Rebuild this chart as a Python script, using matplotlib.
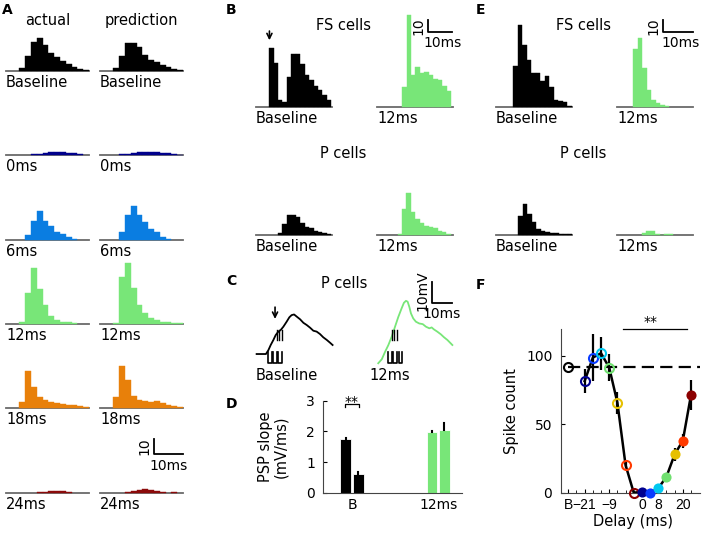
import numpy as np
import matplotlib
matplotlib.use('Agg')
import matplotlib.pyplot as plt

W, H = 702, 540
plt.rcParams['font.family'] = ['DejaVu Sans']
plt.rcParams['font.size'] = 10.5

# ---------------- DATA ----------------
# Panel A: spike-time histograms (counts per 2 ms bin, bins start at 4.6 ms)
a_bin_start = 4.6
a_bin_w = 2.0
a_labels = ['Baseline', '0ms', '6ms', '12ms', '18ms', '24ms']
a_colors = ['#000000', '#00008B', '#0A7DE1', '#78E678', '#E8800A', '#8B0A0A']
a_act_base = [1.8, 10, 19.6, 21.8, 17.3, 11.8, 9.1, 6.7, 4.7, 2.9, 1.3, 0.7]
a_pred_base = [1.8, 10, 18.4, 18.4, 16.2, 10.7, 7.3, 5.8, 4.0, 2.9, 1.3, 0.9]
a_act_0 = [0, 0, 0.4, 0.9, 1.4, 1.9, 2.1, 1.9, 1.5, 1.0, 0.5, 0]
a_pred_0 = [0, 0.4, 0.9, 1.5, 2.0, 2.3, 2.3, 2.0, 1.5, 1.0, 0.6, 0.3]
a_act_6 = [0, 3.3, 12.7, 19.1, 12.7, 9.3, 5.6, 4.0, 1.8, 0.4, 0, 0]
a_pred_6 = [0, 5.6, 16.7, 22.7, 16.7, 12.2, 7.3, 5.6, 2.2, 0.9, 0, 0]
a_act_12 = [1.6, 20.4, 37.5, 23.3, 12.7, 5.3, 2.7, 1.6, 1.1, 0.4, 0, 0]
a_pred_12 = [0.9, 31.1, 40.4, 24.2, 12.7, 7.6, 3.8, 2.7, 1.6, 1.1, 0.7, 0.4]
a_act_18 = [4.0, 24.9, 13.8, 7.3, 5.6, 4.0, 3.6, 2.7, 2.2, 1.8, 1.1, 0.4]
a_pred_18 = [7.3, 28.2, 18.4, 8.2, 5.6, 4.4, 3.8, 4.4, 3.3, 2.2, 1.1, 0.4]
a_act_24 = [0, 0, 0, 0.5, 1.0, 1.3, 1.5, 1.2, 0.6, 0, 0, 0]
a_pred_24 = [0, 0, 1.0, 1.6, 2.0, 2.4, 2.2, 1.4, 0.6, 0, 0.6, 0]

# Panel B: FS / P cell histograms
b_bin_w = 1.85
b_fs_base_start, b_fs_base = 5.5, [48, 36, 5.4, 4, 24, 43, 43, 35, 26, 22, 17, 14, 10, 6]
b_fs_12_start, b_fs_12 = 10.5, [16, 75, 26, 32.5, 27.6, 28.5, 26, 22.8, 22, 17, 13]
b_p_base_start, b_p_base = 9.2, [1.4, 8.9, 16.3, 16.3, 14.9, 9.5, 6.8, 5.4, 3.5, 2.7, 1.9, 1.1]
b_p_12_start, b_p_12 = 8.6, [0.8, 20.9, 34.4, 18.9, 12.8, 9.5, 7.3, 6.8, 5.4, 3.5, 2.2, 0.8]

# Panel E: FS / P cell histograms
e_bin_w = 1.5
e_fs_base_start, e_fs_base = 5.8, [33, 67, 50, 38, 28, 28, 21, 25, 16, 6, 5, 4, 1]
e_fs_12_start, e_fs_12 = 5.4, [47, 56, 31.5, 13.8, 5.7, 3, 1.6, 0.8]
e_p_base_start, e_p_base = 7.4, [15.7, 25.2, 17.1, 10.3, 4.9, 3.5, 2.4, 1.9, 1.4, 1.0, 0.7, 0.5]
e_p_12_start, e_p_12 = 8.2, [1.5, 3.5, 3.5, 1.0, 0.3, 1.0, 0.5]

# Panel C: membrane potential traces (ms, mV)
c_base_t = [0.3, 4.8, 6.0, 7.1, 8.4, 9.5, 10.8, 11.9, 13.2, 14.8, 16.1, 17.2, 18.4, 19.7,
            21.3, 22.9, 24.5, 26.1, 27.7, 29.3, 30.9, 32.5, 34.2, 35.7, 37.0]
c_base_v = [0, 0, 1.8, 4.1, 6.4, 8.6, 10.2, 10.9, 12.4, 14.7, 16.7, 17.7, 18.0, 17.0,
            15.8, 14.2, 13.2, 12.0, 10.6, 10.2, 9.1, 7.6, 6.4, 5.2, 4.1]
c_12_t = [0.6, 2.3, 3.9, 5.5, 7.1, 8.7, 10.3, 11.9, 13.0, 14.0, 14.8, 15.6, 16.4, 17.5,
          18.8, 20.4, 22.1, 23.7, 25.3, 26.4, 27.5, 29.1, 30.8, 32.4, 34.0, 36.4]
c_12_v = [-4.2, -2.4, 1.0, 4.1, 7.9, 12.4, 16.9, 20.8, 23.3, 24.2, 23.8, 21.5, 18.5, 16.2,
          14.7, 13.9, 13.6, 12.4, 11.7, 12.1, 11.2, 10.2, 9.0, 7.6, 6.4, 4.1]
c_pulse_base = [5.6, 8.2, 10.8]
c_pulse_12 = [5.2, 7.8, 10.4]
c_pulse_w = 1.9
c_mark_base = [10.2, 11.3, 12.4]
c_mark_12 = [7.1, 8.2, 9.5]

# Panel D: PSP slope bars
d_pos = [0.783, 1.217, 3.783, 4.217]
d_vals = [1.75, 0.61, 1.99, 2.04]
d_err = [0.02, 0.06, 0.02, 0.22]
d_colors = ['#000000', '#000000', '#78E678', '#78E678']
d_ticklabels = ['B', '12ms']

# Panel F: spike count vs delay
f_base_val, f_base_err = 92.2, 2.0
f_idx = list(range(2, 16))
f_vals = [81.7, 98.8, 102.0, 91.5, 65.9, 20.2, 0.0, 0.7, 0.0, 3.2, 11.7, 28.0, 38.0, 71.5]
f_err = [8.5, 17.0, 12.0, 10.0, 8.0, 2.0, 0.5, 1.0, 1.0, 1.5, 2.5, 5.0, 5.0, 11.0]
f_filled = [False] * 7 + [True] * 7
f_colors = ['#00008F', '#0A3CFF', '#00C8F0', '#70E070', '#E6C000', '#FF3A00', '#8C0000'] * 2
f_tick_pos = [0, 2, 5, 9, 11, 14]
f_tick_lab = ['B', '\u221221', '\u22129', '0', '8', '20']

# ---------------- FIGURE ----------------
fig = plt.figure(figsize=(W / 100, H / 100), dpi=100)


def add_ax(left, top, width, height):
    return fig.add_axes([left / W, 1 - (top + height) / H, width / W, height / H])


def px_text(x, y, s, **kw):
    fig.text(x / W, 1 - y / H, s, **kw)


def hist_ax(left, bottom, width, height, xmax, ymax, start, binw, counts, color):
    ax = add_ax(left, bottom - height, width, height)
    counts = np.asarray(counts, float)
    edges = start + binw * np.arange(len(counts))
    m = counts > 0
    ax.bar(edges[m], counts[m], width=binw, align='edge', color=color,
           edgecolor=color, linewidth=0.3, clip_on=False, zorder=2)
    ax.set_xlim(0, xmax)
    ax.set_ylim(0, ymax)
    for s in ['top', 'left', 'right']:
        ax.spines[s].set_visible(False)
    ax.spines['bottom'].set_color('#6a6a6a')
    ax.spines['bottom'].set_linewidth(1.3)
    ax.spines['bottom'].set_zorder(1)
    ax.set_xticks([])
    ax.set_yticks([])
    ax.patch.set_alpha(0)
    return ax


# ---- Panel A ----
a_rows_bottom = [71, 155, 240, 324, 408, 493]
a_act = [a_act_base, a_act_0, a_act_6, a_act_12, a_act_18, a_act_24]
a_pred = [a_pred_base, a_pred_0, a_pred_6, a_pred_12, a_pred_18, a_pred_24]
px_text(47.5, 20.7, 'actual', ha='center', va='center')
px_text(141.5, 20.7, 'prediction', ha='center', va='center')
a_axes = []
for i, yb in enumerate(a_rows_bottom):
    ax1 = hist_ax(6, yb, 83, 60, 28.6, 40, a_bin_start, a_bin_w, a_act[i], a_colors[i])
    ax2 = hist_ax(100, yb, 83, 60, 28.6, 40, a_bin_start, a_bin_w, a_pred[i], a_colors[i])
    px_text(6, yb + 4, a_labels[i], ha='left', va='top')
    px_text(100, yb + 4, a_labels[i], ha='left', va='top')
    a_axes.append(ax2)
# scale bar A (10 counts, 10 ms) in last prediction axes
sax = a_axes[-1]
sax.plot([18.7, 18.7, 28.7], [36, 26, 26], color='k', lw=1.3, clip_on=False)
sax.text(17.8, 31, '10', rotation=90, ha='right', va='center', fontsize=10)
sax.text(23.7, 22.5, '10ms', ha='center', va='top', fontsize=10)

# ---- Panel B ----
px_text(343, 25, 'FS cells', ha='center', va='center')
px_text(343, 154, 'P cells', ha='center', va='center')
bax1 = hist_ax(256, 107, 76, 100, 31.7, 81.3, b_fs_base_start, b_bin_w, b_fs_base, 'k')
bax2 = hist_ax(377, 107, 76, 100, 31.7, 81.3, b_fs_12_start, b_bin_w, b_fs_12, '#78E678')
bax3 = hist_ax(256, 235, 76, 100, 31.7, 81.3, b_p_base_start, b_bin_w, b_p_base, 'k')
bax4 = hist_ax(377, 235, 76, 100, 31.7, 81.3, b_p_12_start, b_bin_w, b_p_12, '#78E678')
for x, y, s in [(256, 111, 'Baseline'), (377, 111, '12ms'), (256, 239, 'Baseline'), (377, 239, '12ms')]:
    px_text(x, y, s, ha='left', va='top')
bax1.annotate('', xy=(5.6, 52), xytext=(5.6, 64),
              arrowprops=dict(arrowstyle='->', color='k', lw=1.2, mutation_scale=9),
              annotation_clip=False)
bax2.plot([21.4, 21.4, 31.4], [70.7, 60.7, 60.7], color='k', lw=1.3, clip_on=False)
bax2.text(20.4, 65.7, '10', rotation=90, ha='right', va='center', fontsize=10)
bax2.text(27.2, 58.0, '10ms', ha='center', va='top', fontsize=10)

# ---- Panel E ----
px_text(583, 25, 'FS cells', ha='center', va='center')
px_text(583, 154, 'P cells', ha='center', va='center')
eax1 = hist_ax(496, 107, 76, 100, 25.3, 81.3, e_fs_base_start, e_bin_w, e_fs_base, 'k')
eax2 = hist_ax(617, 107, 76, 100, 25.3, 81.3, e_fs_12_start, e_bin_w, e_fs_12, '#78E678')
eax3 = hist_ax(496, 235, 76, 100, 25.3, 81.3, e_p_base_start, e_bin_w, e_p_base, 'k')
eax4 = hist_ax(617, 235, 76, 100, 25.3, 81.3, e_p_12_start, e_bin_w, e_p_12, '#78E678')
for x, y, s in [(496, 111, 'Baseline'), (617, 111, '12ms'), (496, 239, 'Baseline'), (617, 239, '12ms')]:
    px_text(x, y, s, ha='left', va='top')
eax2.plot([15.2, 15.2, 25.2], [70.7, 60.7, 60.7], color='k', lw=1.3, clip_on=False)
eax2.text(14.4, 65.7, '10', rotation=90, ha='right', va='center', fontsize=10)
eax2.text(21.3, 58.0, '10ms', ha='center', va='top', fontsize=10)

# ---- Panel C ----
px_text(344, 283, 'P cells', ha='center', va='center')


def trace_ax(left, t, v, color, pulses, marks):
    ax = add_ax(left, 296, 80, 70)
    ax.set_xlim(0, 80 / 2.07)
    ax.set_ylim(-5.45, 26.4)
    ax.axis('off')
    ax.plot(t, v, color=color, lw=1.3, clip_on=False)
    for on in pulses:
        ax.plot([on, on, on + c_pulse_w, on + c_pulse_w], [1.0, -4.2, -4.2, 1.0],
                color='k', lw=1.2, clip_on=False)
    for m in marks:
        ax.plot([m, m], [6.4, 10.9], color='k', lw=1.0, clip_on=False)
    return ax


cax1 = trace_ax(256, c_base_t, c_base_v, 'k', c_pulse_base, c_mark_base)
cax2 = trace_ax(377, c_12_t, c_12_v, '#78E678', c_pulse_12, c_mark_12)
cax1.annotate('', xy=(9.2, 14.7), xytext=(9.2, 22.6),
              arrowprops=dict(arrowstyle='->', color='k', lw=1.2, mutation_scale=9),
              annotation_clip=False)
cax2.plot([26.4, 26.4, 36.4], [32.9, 23.0, 23.0], color='k', lw=1.3, clip_on=False)
cax2.text(25.3, 29.0, '10mV', rotation=90, ha='right', va='center', fontsize=10)
cax2.text(31.4, 21.6, '10ms', ha='center', va='top', fontsize=10)
px_text(256, 368, 'Baseline', ha='left', va='top')
px_text(369, 368, '12ms', ha='left', va='top')

# ---- Panel D ----
dax = add_ax(323.3, 400.7, 138.4, 92)
dax.bar(d_pos, d_vals, width=0.374, color=d_colors, edgecolor='white', linewidth=0.6, zorder=2)
for x, v, e in zip(d_pos, d_vals, d_err):
    dax.plot([x, x], [v, v + e], color='k', lw=1.5, zorder=3)
dax.set_xlim(0, 4.82)
dax.set_ylim(0, 3)
dax.set_yticks([0, 1, 2, 3])
dax.set_xticks([1, 4])
dax.set_xticklabels(d_ticklabels)
dax.tick_params(axis='y', direction='in', length=3, pad=6, labelsize=10)
dax.tick_params(axis='x', length=0, pad=4, labelsize=10)
for s in ['top', 'right']:
    dax.spines[s].set_visible(False)
for s in ['left', 'bottom']:
    dax.spines[s].set_color('#444444')
dax.set_ylabel('PSP slope\n(mV/ms)', fontsize=10.5, linespacing=1.1)
dax.yaxis.set_label_coords(-0.25, 0.5)
dax.plot([0.77, 0.77, 1.23, 1.23], [2.80, 2.88, 2.88, 2.80], color='k', lw=0.9, clip_on=False)
dax.text(1.0, 2.97, '**', ha='center', va='center', fontsize=10)

# ---- Panel F ----
fax = add_ax(560.7, 329.3, 139.3, 163.4)
fax.set_xlim(-0.93, 16.1)
fax.set_ylim(0, 119.5)
fax.plot([0, 16.1], [f_base_val, f_base_val], color='k', lw=1.6,
         linestyle=(0, (5.5, 2.8)), zorder=1)
fax.errorbar(f_idx, f_vals, yerr=f_err, fmt='none', ecolor='k', elinewidth=1.6, capsize=0, zorder=2)
fax.plot(f_idx, f_vals, color='k', lw=1.8, zorder=2)
fax.plot([0], [f_base_val], 'o', mfc='none', mec='k', ms=6.5, mew=1.5, zorder=4)
for x, v, filled, c in zip(f_idx, f_vals, f_filled, f_colors):
    if filled:
        fax.plot([x], [v], 'o', color=c, ms=7.3, mew=0, zorder=4, clip_on=False)
    else:
        fax.plot([x], [v], 'o', mfc='none', mec=c, ms=6.5, mew=1.5, zorder=4, clip_on=False)
fax.set_xticks(f_tick_pos)
fax.set_xticklabels(f_tick_lab, family=['Liberation Sans', 'DejaVu Sans'], fontsize=10)
fax.set_xticks(range(0, 16), minor=True)
fax.set_yticks([0, 50, 100])
fax.tick_params(axis='both', which='both', direction='in')
fax.tick_params(axis='y', labelsize=10)
fax.tick_params(axis='both', which='major', length=3)
fax.tick_params(axis='x', which='minor', length=2)
fax.tick_params(axis='y', pad=6)
fax.tick_params(axis='x', pad=4)
for s in ['top', 'right']:
    fax.spines[s].set_visible(False)
for s in ['left', 'bottom']:
    fax.spines[s].set_color('#444444')
fax.set_ylabel('Spike count', fontsize=10.5)
fax.yaxis.set_label_coords(-0.30, 0.5)
fax.set_xlabel('Delay (ms)', fontsize=10.5)
fax.xaxis.set_label_coords(0.52, -0.13)
fax.plot([6.66, 14.5], [119.7, 119.7], color='k', lw=0.9, clip_on=False)
fax.text(10.0, 124.5, '**', ha='center', va='center', fontsize=10, clip_on=False)

# ---- panel letters ----
for x, y, s in [(2, 3, 'A'), (226, 3, 'B'), (226, 274, 'C'), (226, 397, 'D'),
                (476, 3, 'E'), (476, 278, 'F')]:
    px_text(x, y, s, ha='left', va='top', fontsize=10, fontweight='bold')

fig.savefig('out.png', dpi=100)
